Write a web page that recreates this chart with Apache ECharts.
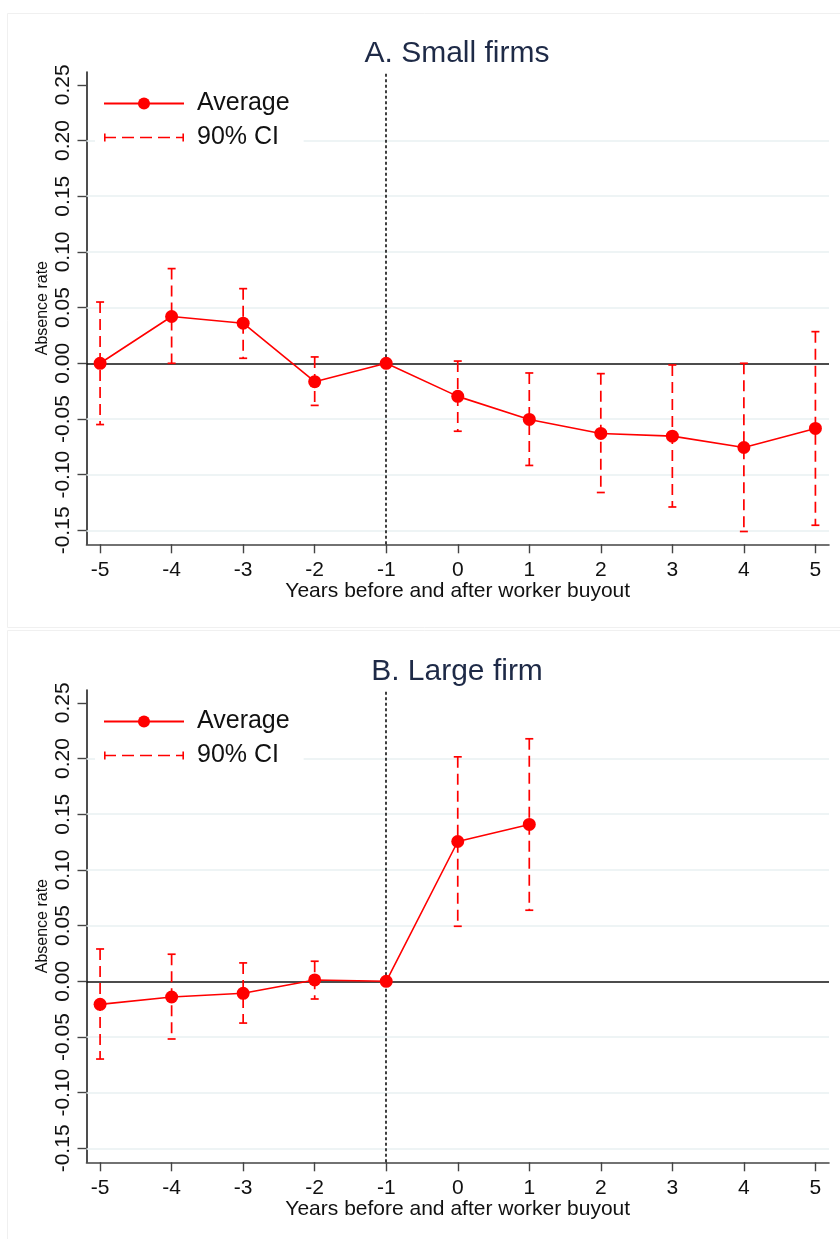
<!DOCTYPE html>
<html>
<head>
<meta charset="utf-8">
<script src="https://cdn.jsdelivr.net/npm/echarts@6/dist/echarts.min.js"></script>
<style>
html,body{margin:0;padding:0;background:#fff;}
#chart{width:840px;height:1239px;}
</style>
</head>
<body>
<div id="chart"></div>
<script>
// ---------- data ----------
const panelTitles = ['A. Small firms', 'B. Large firm'];
const xLabel = 'Years before and after worker buyout';
const yLabel = 'Absence rate';
const legendNames = ['Average', '90% CI'];

const xTicks = [-5, -4, -3, -2, -1, 0, 1, 2, 3, 4, 5];
const yTicks = [-0.15, -0.10, -0.05, 0.00, 0.05, 0.10, 0.15, 0.20, 0.25];
const gridValues = [-0.15, -0.10, -0.05, 0.05, 0.10, 0.15, 0.20];
const zeroLine = 0;
const eventYear = -1;

const smallYears = [-5, -4, -3, -2, -1, 0, 1, 2, 3, 4, 5];
const smallMean  = [0.000, 0.042, 0.036, -0.0165, 0.000, -0.0297, -0.0504, -0.063, -0.0654, -0.0756, -0.0585];
const smallLo    = [-0.055, 0.000, 0.0045, -0.0378, null, -0.061, -0.0917, -0.116, -0.129, -0.151, -0.1454];
const smallHi    = [0.055, 0.085, 0.067, 0.0057, null, 0.002, -0.0087, -0.0093, -0.0015, 0.000, 0.0284];

const largeYears = [-5, -4, -3, -2, -1, 0, 1];
const largeMean  = [-0.0207, -0.0141, -0.0108, 0.0012, 0.000, 0.1255, 0.1408];
const largeLo    = [-0.0698, -0.0518, -0.0375, -0.0159, null, 0.0494, 0.0638];
const largeHi    = [0.029, 0.0243, 0.0165, 0.018, null, 0.2015, 0.2177];

// ---------- styling / layout ----------
const RED = '#ff0000';
const FONT = '"Liberation Sans", Arial, Helvetica, sans-serif';
const PANEL_OFFSET = 618;
const X_MIN = -5.19, X_MAX = 5.19;
const Y_MIN = -0.1625, Y_MAX = 0.2615;

// CI legend icon: 80 x 15 box (tiny corner specks fix the bounding box), caps 8 tall
const ciIcon = 'path://M40,0 H40.01 V0.01 H40 Z M40,14.99 H40.01 V15 H40 Z ' +
  'M0,3.5 H1.6 V11.5 H0 Z M78.4,3.5 H80 V11.5 H78.4 Z ' +
  'M0,6.7 H12 V8.3 H0 Z M18,6.7 H30 V8.3 H18 Z M36,6.7 H48 V8.3 H36 Z M54,6.7 H66 V8.3 H54 Z M72,6.7 H80 V8.3 H72 Z';

const panels = [
  {years: smallYears, mean: smallMean, lo: smallLo, hi: smallHi},
  {years: largeYears, mean: largeMean, lo: largeLo, hi: largeHi}
];

const option = {
  backgroundColor: '#ffffff',
  animation: false,
  title: [], grid: [], xAxis: [], yAxis: [], series: [], legend: [],
  graphic: [
    {type: 'rect', shape: {x: 7.5, y: 13.5, width: 840, height: 614}, style: {fill: 'none', stroke: '#f0f0f0', lineWidth: 1}, silent: true, z: 0},
    {type: 'rect', shape: {x: 7.5, y: 630.5, width: 840, height: 620}, style: {fill: 'none', stroke: '#f0f0f0', lineWidth: 1}, silent: true, z: 0}
  ]
};

function ciRender(params, api) {
  const x = api.value(0), lo = api.value(1), hi = api.value(2);
  const pTop = api.coord([x, hi]);
  const pBot = api.coord([x, lo]);
  const cap = 4;
  const st = {stroke: RED, lineWidth: 1.7};
  return {
    type: 'group',
    children: [
      {type: 'line', shape: {x1: pTop[0], y1: pTop[1], x2: pBot[0], y2: pBot[1]}, style: Object.assign({lineDash: [11, 6]}, st)},
      {type: 'line', shape: {x1: pTop[0] - cap, y1: pTop[1], x2: pTop[0] + cap, y2: pTop[1]}, style: st},
      {type: 'line', shape: {x1: pBot[0] - cap, y1: pBot[1], x2: pBot[0] + cap, y2: pBot[1]}, style: st}
    ]
  };
}

panels.forEach((p, i) => {
  const off = i * PANEL_OFFSET;
  option.title.push({
    text: panelTitles[i], left: 457, top: 39 + off, textAlign: 'center', padding: 0,
    textStyle: {fontFamily: FONT, fontSize: 30, fontWeight: 'normal', color: '#1e2a47'}
  });
  option.grid.push({left: 86.5, right: 11, top: 72 + off, height: 472.3});
  option.xAxis.push({
    type: 'value', gridIndex: i, min: X_MIN, max: X_MAX,
    name: xLabel, nameLocation: 'middle', nameGap: 34,
    nameTextStyle: {fontFamily: FONT, fontSize: 21, color: '#111'},
    axisLine: {show: true, onZero: false, lineStyle: {color: '#444', width: 1.6}},
    axisTick: {show: true, length: 9, customValues: xTicks, lineStyle: {color: '#444', width: 1.4}},
    axisLabel: {customValues: xTicks, margin: 15, fontFamily: FONT, fontSize: 21, color: '#111', formatter: v => String(v)},
    splitLine: {show: false}
  });
  option.yAxis.push({
    type: 'value', gridIndex: i, min: Y_MIN, max: Y_MAX,
    name: yLabel, nameLocation: 'middle', nameGap: 36, nameMoveOverlap: false,
    nameTextStyle: {fontFamily: FONT, fontSize: 16, color: '#111'},
    axisLine: {show: true, onZero: false, lineStyle: {color: '#222', width: 1.6}},
    axisTick: {show: true, length: 9, customValues: yTicks, lineStyle: {color: '#444', width: 1.4}},
    axisLabel: {customValues: yTicks, rotate: 90, margin: 13, fontFamily: FONT, fontSize: 21, color: '#111', formatter: v => v.toFixed(2)},
    splitLine: {show: false}
  });
  // reference / grid lines
  option.series.push({
    type: 'line', name: 'ref' + i, xAxisIndex: i, yAxisIndex: i, data: [], z: 1, silent: true,
    markLine: {
      silent: true, symbol: 'none', label: {show: false}, animation: false, z: 1,
      data: gridValues.map(v => ({yAxis: v, lineStyle: {color: '#e8f0f2', width: 1.6, type: 'solid'}}))
        .concat([
          {yAxis: zeroLine, lineStyle: {color: '#111', width: 1.6, type: 'solid'}},
          {xAxis: eventYear, lineStyle: {color: '#111', width: 1.6, type: [3, 2.5]}}
        ])
    }
  });
  const ciData = [];
  p.years.forEach((y, k) => { if (p.lo[k] !== null) ciData.push([y, p.lo[k], p.hi[k]]); });
  option.series.push({
    type: 'custom', name: legendNames[1], xAxisIndex: i, yAxisIndex: i, z: 3,
    itemStyle: {color: RED},
    renderItem: ciRender, encode: {x: 0, y: [1, 2]}, data: ciData
  });
  option.series.push({
    type: 'line', name: legendNames[0], xAxisIndex: i, yAxisIndex: i, z: 4,
    data: p.years.map((y, k) => [y, p.mean[k]]),
    symbol: 'circle', symbolSize: 13, showSymbol: true,
    lineStyle: {color: RED, width: 1.6}, itemStyle: {color: RED}
  });
  option.legend.push({
    data: [{name: legendNames[0]}, {name: legendNames[1], icon: ciIcon, itemStyle: {color: RED}}],
    left: 95, top: 86 + off, orient: 'vertical', itemGap: 9, z: 6,
    padding: [5, 14, 8, 8], itemWidth: 80, itemHeight: 15, backgroundColor: '#fff',
    selectedMode: false,
    textStyle: {fontFamily: FONT, fontSize: 25, color: '#111', padding: [0, 0, 0, 8]}
  });
});

const chart = echarts.init(document.getElementById('chart'), null, {renderer: 'canvas'});
chart.setOption(option);
</script>
</body>
</html>
